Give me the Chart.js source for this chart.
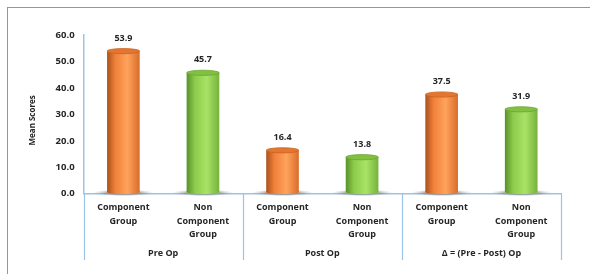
<!DOCTYPE html>
<html>
<head>
<meta charset="utf-8">
<script src="https://cdn.jsdelivr.net/npm/chart.js@4/dist/chart.umd.min.js"></script>
<style>
  html, body { margin: 0; padding: 0; background: #fff; overflow: hidden; }
  #wrap { position: relative; width: 590px; height: 274px; }
  #frame { position: absolute; left: 7px; top: 7px; width: 700px; height: 400px;
           border-top: 1px solid #ED7D31; border-left: 1px solid #ED7D31; }
  canvas { position: absolute; left: 0; top: 0; }
</style>
</head>
<body>
<div id="wrap">
  <div id="frame"></div>
  <canvas id="c" width="590" height="274"></canvas>
</div>
<script>
const categories = [
  ['Component', 'Group'], ['Non', 'Component', 'Group'],
  ['Component', 'Group'], ['Non', 'Component', 'Group'],
  ['Component', 'Group'], ['Non', 'Component', 'Group']
];
const groupLabels = ['Pre Op', 'Post Op', 'Δ = (Pre - Post) Op'];
const meanScores = [53.9, 45.7, 16.4, 13.8, 37.5, 31.9];
const barKinds = ['orange', 'green', 'orange', 'green', 'orange', 'green'];
const yTicks = [0, 10, 20, 30, 40, 50, 60];
const yAxisTitle = 'Mean Scores';

const palette = {
  orange: { base: '#F5863A', dark: '#A9521C', mid: '#F0803A', light: '#FFA35C', right: '#D96C2A', top: '#E47631', rim: '#C8621F' },
  green:  { base: '#92D050', dark: '#5A9128', mid: '#8CCB4B', light: '#A9E366', right: '#76B23B', top: '#82C042', rim: '#6AA630' }
};
const FONT = '"Open Sans", Lato, sans-serif';
const axisBlue = '#9DC3E6';
const TITLE_SIZE = 8;

const cylinderPlugin = {
  id: 'cylinders',
  beforeDatasetsDraw(chart) {
    const c = chart.ctx;
    const meta = chart.getDatasetMeta(0);
    meta.data.forEach((el) => {
      const w = el.width;
      c.save();
      const g = c.createRadialGradient(el.x, el.base, 0, el.x, el.base, w * 0.95);
      g.addColorStop(0, 'rgba(40,40,40,0.85)');
      g.addColorStop(0.55, 'rgba(90,90,90,0.45)');
      g.addColorStop(1, 'rgba(160,160,160,0)');
      c.translate(el.x, el.base - 1);
      c.scale(1, 0.11);
      c.translate(-el.x, -(el.base - 1));
      c.fillStyle = g;
      c.beginPath();
      c.arc(el.x, el.base - 1, w * 0.95, 0, Math.PI * 2);
      c.fill();
      c.restore();
    });
  },
  afterDatasetsDraw(chart) {
    const c = chart.ctx;
    const meta = chart.getDatasetMeta(0);
    meta.data.forEach((el, i) => {
      const p = palette[barKinds[i]];
      const w = el.width, x0 = el.x - w / 2, x1 = el.x + w / 2;
      const ry = 2.6;
      const g = c.createLinearGradient(x0, 0, x1, 0);
      g.addColorStop(0, p.dark);
      g.addColorStop(0.25, p.mid);
      g.addColorStop(0.62, p.light);
      g.addColorStop(1, p.right);
      c.save();
      c.fillStyle = '#fff';
      c.fillRect(x0 - 0.5, el.y - ry - 1, w + 1, el.base - el.y + ry - 2);
      c.fillStyle = g;
      c.beginPath();
      c.moveTo(x0, el.y);
      c.lineTo(x0, el.base - 2);
      c.ellipse(el.x, el.base - 2, w / 2, ry, 0, Math.PI, 0, true);
      c.lineTo(x1, el.y);
      c.closePath();
      c.fill();
      c.beginPath();
      c.ellipse(el.x, el.y, w / 2, ry, 0, 0, Math.PI * 2);
      c.fillStyle = p.top;
      c.fill();
      c.lineWidth = 0.8;
      c.strokeStyle = p.rim;
      c.stroke();
      c.fillStyle = '#262626';
      c.font = 'bold 9px ' + FONT;
      c.textAlign = 'center';
      c.textBaseline = 'middle';
      c.fillText(meanScores[i].toFixed(1), el.x, el.y - 13);
      c.restore();
    });
  }
};

const separatorPlugin = {
  id: 'separators',
  afterDraw(chart) {
    const x = chart.scales.x, x2 = chart.scales.x2, y = chart.scales.y;
    const c = chart.ctx;
    const bounds = [x.left];
    for (let k = 1; k < groupLabels.length; k++) {
      bounds.push((x.getPixelForValue(2 * k - 1) + x.getPixelForValue(2 * k)) / 2);
    }
    bounds.push(x.right);
    c.save();
    c.strokeStyle = axisBlue;
    c.lineWidth = 1.2;
    bounds.forEach((bx) => {
      c.beginPath();
      c.moveTo(Math.round(bx) + 0.5, chart.chartArea.bottom);
      c.lineTo(Math.round(bx) + 0.5, x2.bottom + 1);
      c.stroke();
    });
    c.translate(y.left + TITLE_SIZE * 0.6, (y.top + y.bottom) / 2 + 6);
    c.rotate(-Math.PI / 2);
    c.fillStyle = '#262626';
    c.font = 'bold ' + TITLE_SIZE + 'px ' + FONT;
    c.textAlign = 'center';
    c.textBaseline = 'middle';
    c.fillText(yAxisTitle, 0, 0);
    c.restore();
  }
};

new Chart(document.getElementById('c'), {
  type: 'bar',
  data: {
    labels: categories,
    datasets: [{
      data: meanScores,
      backgroundColor: barKinds.map(k => palette[k].base),
      borderWidth: 0,
      categoryPercentage: 1,
      barPercentage: 0.41,
      xAxisID: 'x',
      yAxisID: 'y'
    }]
  },
  options: {
    responsive: false,
    animation: false,
    events: [],
    layout: { padding: { top: 35, left: 28, right: 29, bottom: 15 } },
    plugins: { legend: { display: false }, tooltip: { enabled: false } },
    scales: {
      x: {
        position: 'bottom',
        grid: { display: false, drawTicks: false },
        border: { display: true, color: axisBlue, width: 1.5 },
        ticks: { color: '#262626', padding: 7, maxRotation: 0, autoSkip: false,
                 font: { family: FONT, weight: 'bold', size: 9, lineHeight: 1.5 } }
      },
      x2: {
        type: 'category',
        position: 'bottom',
        labels: groupLabels,
        grid: { display: false, drawTicks: false },
        border: { display: false },
        ticks: { color: '#262626', padding: 0, maxRotation: 0, autoSkip: false,
                 font: { family: FONT, weight: 'bold', size: 9 } }
      },
      y: {
        min: 0, max: 60,
        afterBuildTicks(axis) { axis.ticks = yTicks.map(v => ({ value: v })); },
        grid: { display: false, drawTicks: false },
        border: { display: true, color: axisBlue, width: 1.5 },
        ticks: { color: '#262626', padding: 9, callback: v => Number(v).toFixed(1),
                 font: { family: FONT, weight: 'bold', size: 9.5 } },
        title: { display: true, text: yAxisTitle, color: 'rgba(0,0,0,0)', padding: { top: 0, bottom: 9 },
                 font: { family: FONT, weight: 'bold', size: TITLE_SIZE } }
      }
    }
  },
  plugins: [cylinderPlugin, separatorPlugin]
});
</script>
</body>
</html>
